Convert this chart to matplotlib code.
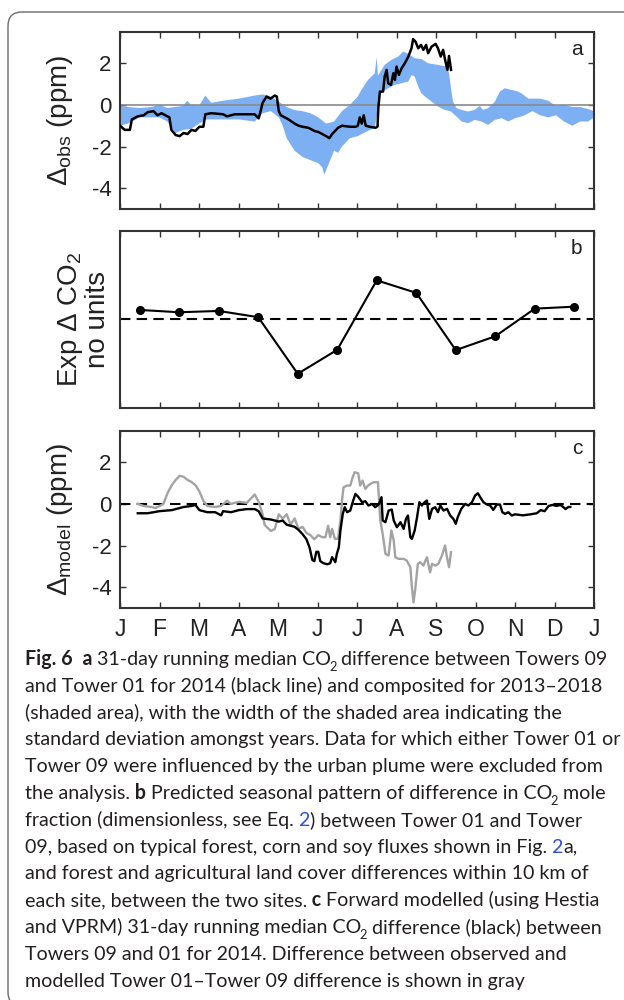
import numpy as np
import matplotlib
matplotlib.use('Agg')
import matplotlib.pyplot as plt
from matplotlib.patches import FancyBboxPatch
from matplotlib.transforms import IdentityTransform

plt.rcParams['font.family'] = ['Liberation Sans', 'DejaVu Sans']
plt.rcParams['axes.unicode_minus'] = False
plt.rcParams['mathtext.fontset'] = 'custom'
plt.rcParams['mathtext.rm'] = 'Liberation Sans'
plt.rcParams['mathtext.it'] = 'Liberation Sans:italic'
plt.rcParams['mathtext.bf'] = 'Liberation Sans:bold'

# ---- data (x in months since 1 Jan, equal-width months) ----
month_labels = ['J', 'F', 'M', 'A', 'M', 'J', 'J', 'A', 'S', 'O', 'N', 'D', 'J']

# panel a: 2014 running median (ppm)
obs_2014 = [(0.00, -1.0), (0.12, -1.2), (0.25, -1.2), (0.30, -0.7), (0.45, -0.55),
            (0.60, -0.5), (0.70, -0.35), (0.85, -0.3), (0.95, -0.5), (1.05, -0.4),
            (1.15, -0.5), (1.25, -0.6), (1.30, -1.2), (1.41, -1.45), (1.51, -1.5),
            (1.61, -1.35), (1.71, -1.4), (1.81, -1.2), (1.91, -1.25), (2.01, -1.05),
            (2.11, -1.05), (2.16, -0.45), (2.31, -0.4), (2.61, -0.45), (2.71, -0.55),
            (2.91, -0.45), (3.21, -0.45), (3.41, -0.45), (3.51, -0.65), (3.56, -0.3),
            (3.61, 0.1), (3.71, 0.4), (3.81, 0.3), (3.92, 0.45), (3.97, 0.4),
            (4.02, -0.3), (4.07, -0.5), (4.17, -0.6), (4.27, -0.7), (4.42, -0.9),
            (4.52, -1.0), (4.62, -1.05), (4.77, -1.1), (4.92, -1.25), (5.02, -1.3),
            (5.12, -1.4), (5.22, -1.5), (5.30, -1.6), (5.37, -1.4), (5.47, -1.2),
            (5.52, -1.1), (5.62, -1.0), (5.82, -1.05), (5.97, -1.05), (6.02, -1.0),
            (6.07, -0.6), (6.12, -0.9), (6.17, -0.5), (6.22, -1.0), (6.32, -1.05),
            (6.47, -1.1), (6.52, -1.04), (6.54, -0.16), (6.58, 0.64), (6.66, 0.64),
            (6.70, 1.36), (6.75, 1.68), (6.79, 1.04), (6.86, 0.96), (6.92, 1.52),
            (6.96, 1.2), (7.00, 1.84), (7.06, 1.44), (7.13, 1.76), (7.21, 2.0),
            (7.30, 2.32), (7.38, 2.72), (7.42, 3.16), (7.48, 3.04), (7.55, 2.72),
            (7.62, 2.88), (7.68, 2.64), (7.75, 2.88), (7.80, 2.48), (7.89, 2.8),
            (7.99, 2.93), (8.05, 2.72), (8.12, 2.32), (8.18, 2.64), (8.24, 2.08),
            (8.29, 1.68), (8.33, 2.35), (8.38, 1.68)]

# panel a: 2013-2018 composite, +/- one std (upper and lower edge)
comp_upper = [(0.0, -0.05), (0.2, -0.1), (0.5, -0.15), (0.8, -0.1), (1.0, 0.0),
              (1.2, -0.15), (1.6, -0.05), (1.7, 0.2), (1.8, 0.0), (2.0, -0.05),
              (2.16, 0.45), (2.31, 0.1), (2.61, 0.2), (3.01, 0.3), (3.41, 0.45),
              (3.61, 0.5), (3.82, 0.4), (4.02, 0.15), (4.22, -0.1), (4.42, -0.25),
              (4.62, -0.3), (4.82, -0.4), (5.02, -0.6), (5.22, -0.9), (5.42, -0.8),
              (5.62, -0.3), (5.82, 0.0), (6.02, 0.4), (6.11, 0.72), (6.28, 1.2),
              (6.45, 1.52), (6.50, 2.3), (6.53, 1.4), (6.70, 1.92), (6.87, 2.16),
              (7.04, 2.32), (7.17, 2.56), (7.30, 2.45), (7.46, 2.24), (7.63, 2.2),
              (7.80, 2.0), (8.05, 1.92), (8.27, 1.84), (8.33, 1.52), (8.38, 0.8),
              (8.43, 0.16), (8.52, -0.16), (8.65, -0.24), (8.81, -0.32), (8.98, -0.24),
              (9.11, -0.05), (9.19, -0.24), (9.32, -0.16), (9.49, 0.16), (9.62, 0.64),
              (9.74, 0.8), (9.91, 0.72), (10.08, 0.64), (10.16, 0.56), (10.34, 0.3),
              (10.64, 0.3), (10.84, 0.2), (11.04, -0.05), (11.24, 0.0), (11.45, -0.1),
              (11.65, -0.1), (11.85, -0.2), (12.0, -0.3)]
comp_lower = [(0.0, -1.0), (0.2, -0.9), (0.5, -0.6), (0.8, -0.6), (1.0, -0.6),
              (1.2, -0.8), (1.3, -1.1), (1.41, -1.35), (1.6, -1.2), (1.8, -1.15),
              (2.0, -0.9), (2.2, -0.7), (2.61, -0.7), (3.01, -0.7), (3.41, -0.8),
              (3.61, -0.4), (3.82, -0.3), (4.02, -0.6), (4.12, -1.0), (4.22, -1.6),
              (4.42, -2.2), (4.62, -2.5), (4.82, -2.65), (5.02, -2.8), (5.12, -3.0),
              (5.17, -3.35), (5.27, -2.9), (5.42, -2.2), (5.52, -2.3), (5.62, -2.0),
              (5.82, -1.6), (6.02, -1.5), (6.22, -1.3), (6.45, -1.1), (6.52, -0.3),
              (6.58, 0.55), (6.79, 0.8), (6.96, 0.96), (7.13, 1.04), (7.30, 1.12),
              (7.38, 1.44), (7.46, 1.36), (7.55, 0.88), (7.63, 0.56), (7.72, 0.4),
              (7.89, 0.16), (8.05, -0.08), (8.22, -0.24), (8.38, -0.32), (8.52, -0.56),
              (8.65, -0.8), (8.81, -0.88), (8.98, -0.72), (9.15, -0.8), (9.32, -0.96),
              (9.49, -0.72), (9.66, -0.64), (9.83, -0.8), (10.0, -0.64), (10.16, -0.56),
              (10.24, -0.5), (10.44, -0.3), (10.64, -0.5), (10.84, -0.6), (11.04, -0.5),
              (11.24, -0.8), (11.45, -1.0), (11.65, -0.8), (11.85, -0.8), (12.0, -0.6)]

# panel b: expected monthly difference (no units)
exp_month = [0.5, 1.5, 2.5, 3.5, 4.5, 5.5, 6.5, 7.5, 8.5, 9.5, 10.5, 11.5]
exp_value = [0.27, 0.20, 0.24, 0.05, -1.67, -0.94, 1.17, 0.79, -0.95, -0.53, 0.31, 0.37]

# panel c: modelled difference (black) and obs - model (gray), ppm
model_diff = [(0.45, -0.45), (0.70, -0.45), (1.0, -0.35), (1.31, -0.3), (1.61, -0.15),
              (1.81, -0.1), (1.91, -0.05), (2.01, -0.3), (2.21, -0.4), (2.41, -0.4),
              (2.56, -0.55), (2.61, -0.35), (2.81, -0.4), (3.01, -0.3), (3.21, -0.25),
              (3.41, -0.25), (3.51, -0.35), (3.61, -0.7), (3.82, -0.75), (4.02, -0.85),
              (4.12, -0.8), (4.22, -1.0), (4.42, -1.1), (4.52, -1.25), (4.62, -1.45),
              (4.72, -1.7), (4.80, -2.1), (4.87, -2.7), (4.92, -2.75), (4.97, -2.3),
              (5.02, -2.3), (5.07, -2.75), (5.15, -2.85), (5.25, -2.9), (5.32, -2.85),
              (5.37, -2.56), (5.42, -2.7), (5.45, -2.8), (5.49, -2.4), (5.54, -2.08),
              (5.58, -1.28), (5.64, -0.48), (5.69, -0.16), (5.75, -0.4), (5.83, -0.32),
              (5.89, 0.08), (5.96, 0.48), (6.04, 0.32), (6.13, 0.08), (6.21, 0.13),
              (6.29, -0.08), (6.38, 0.0), (6.46, -0.16), (6.55, -0.03), (6.62, 0.32),
              (6.65, -0.8), (6.72, -0.88), (6.80, -0.32), (6.88, -0.27), (6.93, -0.8),
              (7.01, -1.12), (7.10, -0.88), (7.18, -1.2), (7.24, -0.72), (7.29, -0.56),
              (7.35, -1.6), (7.39, -1.68), (7.46, -1.28), (7.52, -0.64), (7.58, 0.08),
              (7.64, -0.08), (7.71, 0.08), (7.77, 0.16), (7.83, -0.72), (7.90, -0.24),
              (7.98, -0.16), (8.05, -0.4), (8.11, -0.08), (8.19, -0.32), (8.28, -0.24),
              (8.36, -0.56), (8.44, -0.72), (8.50, -0.96), (8.55, -0.64), (8.64, -0.24),
              (8.74, 0.0), (8.82, -0.08), (8.91, 0.08), (8.99, 0.4), (9.06, 0.51),
              (9.12, 0.32), (9.20, 0.08), (9.29, -0.03), (9.37, -0.08), (9.45, -0.29),
              (9.54, -0.03), (9.62, -0.03), (9.68, -0.4), (9.75, -0.48), (9.83, -0.4),
              (9.92, -0.56), (10.0, -0.5), (10.2, -0.55), (10.4, -0.5), (10.55, -0.45),
              (10.65, -0.3), (10.75, -0.35), (10.85, -0.1), (10.95, -0.05), (11.05, -0.1),
              (11.15, -0.05), (11.22, -0.15), (11.28, -0.25), (11.35, -0.15), (11.4, -0.15)]
resid_diff = [(0.45, 0.0), (0.6, -0.1), (0.8, -0.15), (0.9, -0.2), (1.0, -0.1),
              (1.1, 0.0), (1.2, 0.5), (1.31, 0.9), (1.41, 1.15), (1.51, 1.35),
              (1.61, 1.3), (1.71, 1.15), (1.81, 1.05), (1.91, 0.9), (2.01, 0.6),
              (2.11, 0.15), (2.21, -0.1), (2.41, -0.15), (2.56, -0.1), (2.71, 0.15),
              (2.81, 0.0), (3.01, 0.1), (3.21, 0.05), (3.41, 0.45), (3.51, 0.1),
              (3.61, -0.5), (3.66, -1.0), (3.71, -1.1), (3.82, -1.3), (3.92, -1.2),
              (4.02, -0.5), (4.12, -0.7), (4.22, -0.5), (4.32, -1.0), (4.42, -0.7),
              (4.52, -1.2), (4.62, -1.1), (4.72, -1.4), (4.82, -1.5), (4.92, -1.7),
              (5.02, -1.5), (5.12, -1.6), (5.20, -1.6), (5.27, -1.05), (5.32, -1.6),
              (5.37, -1.2), (5.44, -1.68), (5.52, -1.68), (5.58, -0.8), (5.62, 0.16),
              (5.66, 0.8), (5.75, 0.88), (5.83, 0.88), (5.89, 1.28), (5.94, 1.52),
              (6.03, 1.47), (6.08, 0.88), (6.14, 1.12), (6.21, 0.72), (6.28, 0.88),
              (6.34, 0.96), (6.42, 1.04), (6.53, 1.04), (6.59, -0.8), (6.65, -1.44),
              (6.72, -2.4), (6.80, -2.48), (6.87, -1.28), (6.93, -1.76), (6.97, -2.56),
              (7.05, -2.64), (7.18, -2.64), (7.26, -2.72), (7.35, -3.04), (7.39, -4.0),
              (7.43, -4.73), (7.47, -4.17), (7.54, -2.88), (7.60, -2.8), (7.68, -2.96),
              (7.77, -2.56), (7.85, -3.29), (7.90, -2.88), (7.98, -2.96), (8.06, -2.88),
              (8.15, -2.48), (8.23, -2.0), (8.27, -2.48), (8.33, -3.04), (8.38, -2.32)]

caption = [
    [('Fig. 6', 'bold'), ('  a', 'bold'), (' 31-day running median CO', 'reg'), ('2', 'sub'),
     (' difference between Towers 09', 'reg')],
    [('and Tower 01 for 2014 (black line) and composited for 2013\u20132018', 'reg')],
    [('(shaded area), with the width of the shaded area indicating the', 'reg')],
    [('standard deviation amongst years. Data for which either Tower 01 or', 'reg')],
    [('Tower 09 were influenced by the urban plume were excluded from', 'reg')],
    [('the analysis.', 'reg'), (' b', 'bold'), (' Predicted seasonal pattern of difference in CO', 'reg'),
     ('2', 'sub'), (' mole', 'reg')],
    [('fraction (dimensionless, see Eq.', 'reg'), (' 2', 'link'), (') between Tower 01 and Tower', 'reg')],
    [('09, based on typical forest, corn and soy fluxes shown in Fig.', 'reg'), (' 2', 'link'), ('a,', 'reg')],
    [('and forest and agricultural land cover differences within 10 km of', 'reg')],
    [('each site, between the two sites.', 'reg'), (' c', 'bold'), (' Forward modelled (using Hestia', 'reg')],
    [('and VPRM) 31-day running median CO', 'reg'), ('2', 'sub'), (' difference (black) between', 'reg')],
    [('Towers 09 and 01 for 2014. Difference between observed and', 'reg')],
    [('modelled Tower 01\u2013Tower 09 difference is shown in gray', 'reg')],
]

# ---- figure ----
W, H = 624, 1000
fig = plt.figure(figsize=(W / 100, H / 100), dpi=100)


def axes_px(x0, y0, x1, y1):
    return fig.add_axes([x0 / W, 1 - y1 / H, (x1 - x0) / W, (y1 - y0) / H])


ax_a = axes_px(120, 32, 594, 209)
ax_b = axes_px(120, 231, 594, 408)
ax_c = axes_px(120, 431, 594, 608)

frame_col = '#333333'
txt_col = '#222222'
for ax in (ax_a, ax_b, ax_c):
    ax.set_xlim(0, 12)
    ax.set_xticks(range(13))
    for sp in ax.spines.values():
        sp.set_linewidth(1.5)
        sp.set_color(frame_col)
    ax.tick_params(direction='in', length=4, width=1, color=frame_col, top=True, right=True,
                   labelsize=16, labelcolor=txt_col, pad=6, labelbottom=False)

dash = (0, (5, 3))

# a
blue = '#7db0f3'
um, uv = zip(*comp_upper)
lm, lv = zip(*comp_lower)
ax_a.fill(list(um) + list(lm[::-1]), list(uv) + list(lv[::-1]), color=blue, lw=0, zorder=1)
ax_a.axhline(0, color='#8a8a8a', lw=1.2, zorder=2)
ax_a.plot(*zip(*obs_2014), color='k', lw=1.8, zorder=3)
ax_a.set_ylim(-5, 3.5)
ax_a.set_yticks([-4, -2, 0, 2])
ax_a.set_ylabel(r'$\Delta_{\mathregular{obs}}$ (ppm)', fontsize=20, color=txt_col)
ax_a.yaxis.set_label_coords(-0.095, 0.5)

# b
ax_b.axhline(0, color='k', lw=1.5, ls=dash)
ax_b.plot(exp_month, exp_value, color='k', lw=1.5, marker='o', ms=5.5)
ax_b.set_ylim(-2.71, 2.67)
ax_b.set_yticks([])
ax_b.set_ylabel('Exp $\\Delta$ CO$_{\\mathregular{2}}$\nno units', fontsize=20, color=txt_col,
                linespacing=1.0)
ax_b.yaxis.set_label_coords(-0.02, 0.5)

# c
ax_c.axhline(0, color='k', lw=1.5, ls=dash)
ax_c.plot(*zip(*resid_diff), color='#a3a3a3', lw=1.7)
ax_c.plot(*zip(*model_diff), color='k', lw=1.7)
ax_c.set_ylim(-5, 3.5)
ax_c.set_yticks([-4, -2, 0, 2])
ax_c.set_xticklabels(month_labels)
ax_c.tick_params(axis='x', labelbottom=True, labelsize=16.5, pad=7)
ax_c.set_ylabel(r'$\Delta_{\mathregular{model}}$ (ppm)', fontsize=20, color=txt_col)
ax_c.yaxis.set_label_coords(-0.095, 0.5)

for ax, lab in ((ax_a, 'a'), (ax_b, 'b'), (ax_c, 'c')):
    ax.text(0.964, 0.9, lab, transform=ax.transAxes, ha='center', va='center',
            fontsize=15, color=txt_col)

# outer rounded frame (right and bottom edges run off the page)
fig.add_artist(FancyBboxPatch((8, -6), 650, H - 12 + 6,
                              boxstyle='round,pad=0,rounding_size=14',
                              transform=IdentityTransform(), fill=False,
                              ec='#6a6a6a', lw=1.0))

# caption
cap_font = ['Lato', 'DejaVu Sans']
cap_col = '#231f20'
link_col = '#2f4fd6'
renderer = fig.canvas.get_renderer()
probe = fig.text(0, 0, ''.join(p[0] for p in caption[0]), family=cap_font, fontsize=10)
cap_size = 10 * 587 / probe.get_window_extent(renderer).width
probe.remove()

x_left = 25
y_first = 665
line_step = 26.8
for i, pieces in enumerate(caption):
    y = y_first + i * line_step
    x = x_left
    for text, style in pieces:
        kw = dict(family=cap_font, fontsize=cap_size, color=cap_col)
        drop = 0
        if style == 'bold':
            kw['fontweight'] = 'bold'
        elif style == 'sub':
            kw['fontsize'] = cap_size * 0.66
            drop = 0.3 * cap_size * 100 / 72
        elif style == 'link':
            kw['color'] = link_col
        if style == 'sub':
            x -= 2.0
        elif not text.startswith(' ') and x > x_left:
            x -= 0.5
        t = fig.text(x / W, 1 - (y + drop) / H, text, ha='left', va='baseline', **kw)
        x += t.get_window_extent(renderer).width

fig.savefig('out.png', dpi=100)
